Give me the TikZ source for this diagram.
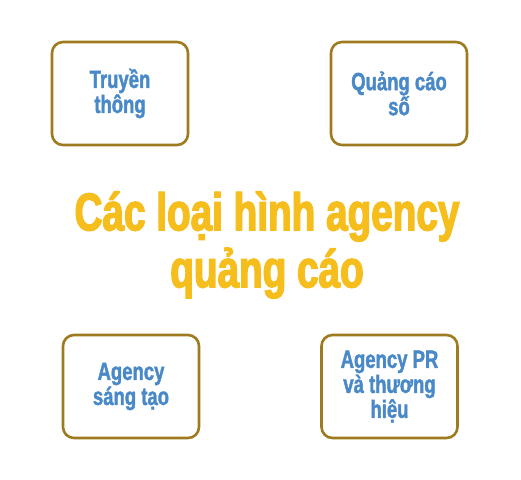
\documentclass[tikz,border=0pt]{standalone}
\usepackage{fontspec}
\newfontfamily\condbold{Liberation Sans}[FakeStretch=0.74,FakeBold=1.5]
\newfontfamily\condtitle{Liberation Sans}[FakeStretch=0.73,FakeBold=2.5]
\definecolor{boxgold}{HTML}{9E7B1F}
\definecolor{txtblue}{HTML}{4A89C8}
\definecolor{titlegold}{HTML}{F6BE1D}
\begin{document}
\begin{tikzpicture}[x=1pt,y=-1pt,
  catbox/.style={draw=boxgold, line width=2.6pt, rounded corners=11pt, fill=white,
    minimum width=136pt, minimum height=103pt, align=center, text=txtblue,
    font=\condbold\bfseries\fontsize{25}{25}\selectfont, inner sep=0pt},
  titletext/.style={align=center, text=titlegold, inner sep=0pt,
    font=\condtitle\bfseries\fontsize{53}{57}\selectfont}]
\useasboundingbox (0,0) rectangle (521,479);
\node[catbox] (b1) at (120,93.5) {Truyền\\thông};
\node[catbox] (b2) at (399,93.5) {Quảng cáo\\số};
\node[catbox] (b3) at (131,386.5) {Agency\\sáng tạo};
\node[catbox] (b4) at (389.5,386.5) {Agency PR\\và thương\\hiệu};
\node[titletext] (t) at (267,245) {Các loại hình agency\\quảng cáo};
\end{tikzpicture}
\end{document}
